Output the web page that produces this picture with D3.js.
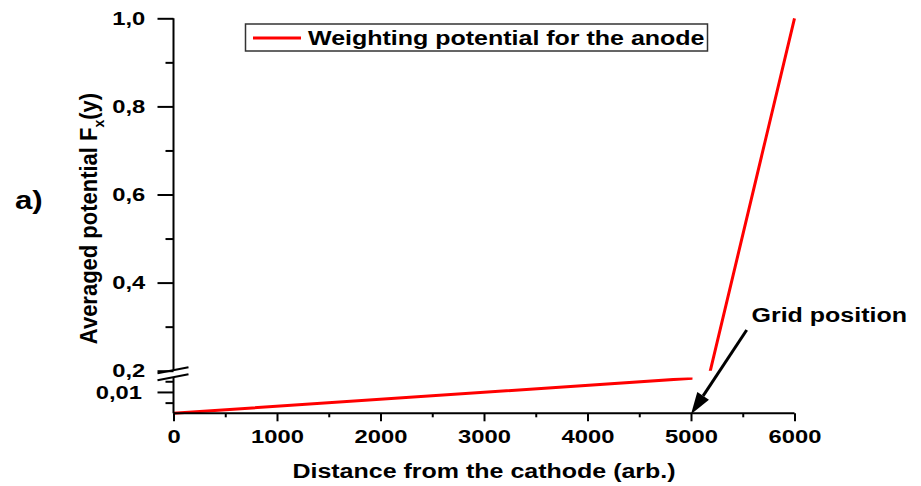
<!DOCTYPE html>
<html>
<head>
<meta charset="utf-8">
<script src="https://cdn.jsdelivr.net/npm/d3@7"></script>
<style>
  html, body { margin: 0; padding: 0; background: #fff; }
  svg { display: block; }
  text { font-family: "Liberation Sans", Arial, sans-serif; font-weight: bold; fill: #000; }
</style>
</head>
<body>
<script>
// Weighting potential along the drift gap (cathode -> grid -> anode)
const distance = [0, 5000, 6000];
const potential = [0, 0.0164, 1.0];

const xTicks = [0, 1000, 2000, 3000, 4000, 5000, 6000];
const xMinorTicks = [500, 1500, 2500, 3500, 4500, 5500];
const yUpperTicks = [0.2, 0.4, 0.6, 0.8, 1.0];
const yUpperMinor = [0.3, 0.5, 0.7, 0.9];
const yLowerTicks = [0.01];
const yLowerMinor = [0.005, 0.015];

const seriesName = "Weighting potential for the anode";
const xTitle = "Distance from the cathode (arb.)";
const annotation = "Grid position";
const gridX = 5000;

const W = 921, H = 486;
const S = 1.25; // horizontal widening of the bold labels
const svg = d3.select("body").append("svg").attr("width", W).attr("height", H);

const x = d3.scaleLinear().domain([0, 6000]).range([173.5, 794.5]);
// broken y axis: a thin lower band and the main upper band
const yLow = d3.scaleLinear().domain([0, 0.017]).range([413.3, 377]);
const yUp = d3.scaleLinear().domain([0.2, 1.0]).range([370.7, 18.3]);

const fmt = d => d3.format(d < 0.1 ? ".2f" : ".1f")(d).replace(".", ",");
const pts = distance.map((d, i) => [d, potential[i]]);

// wide text helper: anchor point stays fixed, glyphs widened by S
function wideText(px, py, size, anchor, str) {
  return svg.append("text")
    .attr("transform", `translate(${px},${py}) scale(${S},1)`)
    .attr("text-anchor", anchor).attr("font-size", size).text(str);
}

// clip regions for the two bands
const defs = svg.append("defs");
defs.append("clipPath").attr("id", "clipUp").append("rect")
  .attr("x", x(0)).attr("y", 0).attr("width", x(6000) - x(0) + 5).attr("height", yUp(0.2));
defs.append("clipPath").attr("id", "clipLow").append("rect")
  .attr("x", x(0)).attr("y", yLow(0.0168)).attr("width", x(6000) - x(0) + 5).attr("height", 60);

const lineUp = d3.line().x(d => x(d[0])).y(d => yUp(d[1]));
const lineLow = d3.line().x(d => x(d[0])).y(d => yLow(d[1]));

svg.append("path").attr("d", lineLow(pts)).attr("clip-path", "url(#clipLow)")
  .attr("fill", "none").attr("stroke", "#ff0000").attr("stroke-width", 3);
svg.append("path").attr("d", lineUp(pts)).attr("clip-path", "url(#clipUp)")
  .attr("fill", "none").attr("stroke", "#ff0000").attr("stroke-width", 3);

function styleTicks(g, size) {
  g.selectAll(".tick line").attr("stroke-width", 2);
  g.selectAll(".tick text").attr("font-size", size).attr("font-family", null);
}

// x axis
const gx = svg.append("g").attr("transform", `translate(0,${yLow(0)})`)
  .call(d3.axisBottom(x).tickValues(xTicks).tickSize(8).tickFormat(d3.format("d")));
gx.select(".domain").attr("d", `M${x(0)},0H${x(6000)}`).attr("stroke-width", 2);
styleTicks(gx, 19);
gx.selectAll(".tick text").attr("y", 0).attr("dy", null)
  .attr("transform", `translate(0,30) scale(${S},1)`);
const gxm = svg.append("g").attr("transform", `translate(0,${yLow(0)})`)
  .call(d3.axisBottom(x).tickValues(xMinorTicks).tickSize(4).tickFormat(""));
gxm.select(".domain").remove();
styleTicks(gxm, 19);

// y axis, upper band
const gyu = svg.append("g").attr("transform", `translate(${x(0)},0)`)
  .call(d3.axisLeft(yUp).tickValues(yUpperTicks).tickSize(16).tickFormat(fmt));
gyu.select(".domain").attr("d", `M0,${yUp(1)}V${yUp(0.2)}`).attr("stroke-width", 2);
styleTicks(gyu, 19);
gyu.selectAll(".tick text").attr("x", 0).attr("transform", `translate(-28.3,0) scale(${S},1)`);
const gyum = svg.append("g").attr("transform", `translate(${x(0)},0)`)
  .call(d3.axisLeft(yUp).tickValues(yUpperMinor).tickSize(8).tickFormat(""));
gyum.select(".domain").remove();
styleTicks(gyum, 19);

// y axis, lower band
const gyl = svg.append("g").attr("transform", `translate(${x(0)},0)`)
  .call(d3.axisLeft(yLow).tickValues(yLowerTicks).tickSize(16).tickFormat(fmt));
gyl.select(".domain").attr("d", `M0,${yLow(0.017)}V${yLow(0)}`).attr("stroke-width", 2);
styleTicks(gyl, 19);
gyl.selectAll(".tick text").attr("x", 0).attr("transform", `translate(-31.6,0) scale(${S},1)`);
const gylm = svg.append("g").attr("transform", `translate(${x(0)},0)`)
  .call(d3.axisLeft(yLow).tickValues(yLowerMinor).tickSize(8).tickFormat(""));
gylm.select(".domain").remove();
styleTicks(gylm, 19);

// axis break marks
const bx0 = x(0) - 16, bx1 = x(0) + 15;
const bMid = (yUp(0.2) + yLow(0.017)) / 2;
[-3.5, 3.5].forEach(off => {
  svg.append("line")
    .attr("x1", bx0).attr("y1", bMid + off + 3)
    .attr("x2", bx1).attr("y2", bMid + off - 3)
    .attr("stroke", "#000").attr("stroke-width", 2);
});

// axis titles
wideText((x(0) + x(6000)) / 2, 478, 20, "middle", xTitle);

const yt = svg.append("text").attr("transform", "translate(97,218.5) scale(1.1,1) rotate(-90)")
  .attr("text-anchor", "middle").attr("font-size", 22);
yt.append("tspan").text("Averaged potential F");
yt.append("tspan").attr("font-size", 14).attr("dy", 6).text("x");
yt.append("tspan").attr("dy", -6).text("(y)");

wideText(15, 209, 25, "start", "a)");

// legend
const lg = svg.append("g");
lg.append("rect").attr("x", 245.5).attr("y", 24).attr("width", 462).attr("height", 27)
  .attr("fill", "#fff").attr("stroke", "#333").attr("stroke-width", 1.5);
lg.append("line").attr("x1", 253).attr("x2", 301).attr("y1", 38).attr("y2", 38)
  .attr("stroke", "#ff0000").attr("stroke-width", 3);
wideText(308, 44.5, 20, "start", seriesName);

// annotation arrow pointing at the grid
const tipX = x(gridX), tipY = yLow(0) + 1;
const tailX = 746.7, tailY = 330;
const ang = Math.atan2(tipY - tailY, tipX - tailX);
const headLen = 22, headW = 7;
const bxh = tipX - headLen * Math.cos(ang), byh = tipY - headLen * Math.sin(ang);
svg.append("line").attr("x1", tailX).attr("y1", tailY).attr("x2", bxh).attr("y2", byh)
  .attr("stroke", "#000").attr("stroke-width", 3);
svg.append("path")
  .attr("d", `M${tipX},${tipY}L${bxh + headW * Math.sin(ang)},${byh - headW * Math.cos(ang)}L${bxh - headW * Math.sin(ang)},${byh + headW * Math.cos(ang)}Z`)
  .attr("fill", "#000");
wideText(751.5, 322, 20, "start", annotation);
</script>
</body>
</html>
